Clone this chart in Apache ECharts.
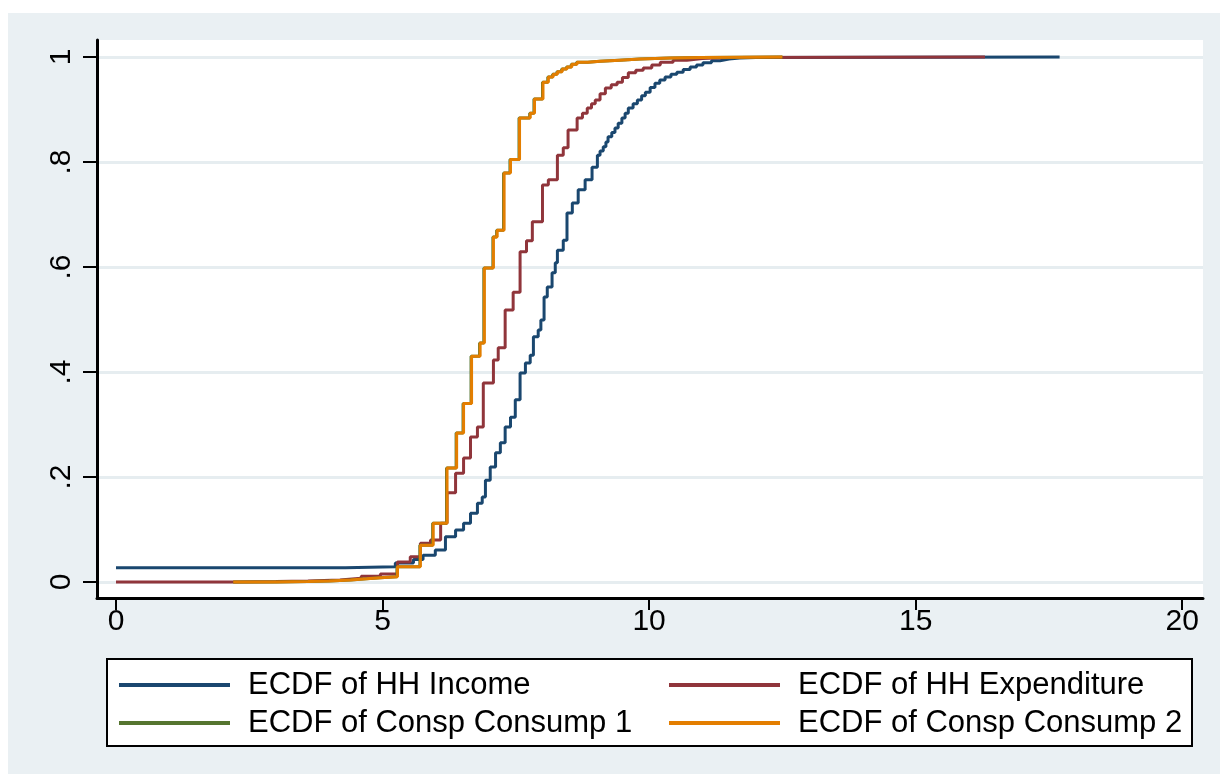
<!DOCTYPE html>
<html><head><meta charset="utf-8">
<script src="https://cdn.jsdelivr.net/npm/echarts@6/dist/echarts.min.js"></script>
<style>html,body{margin:0;padding:0;background:#fff}#c{width:1220px;height:774px}</style>
</head><body><div id="c"></div>
<script>
// ---- tick definitions ----
const xTicks = [0, 5, 10, 15, 20];
const yTicks = [0, 0.2, 0.4, 0.6, 0.8, 1];
const yTickLabels = ['0', '.2', '.4', '.6', '.8', '1'];

// ---- series names ----
const seriesNames = ['ECDF of HH Income', 'ECDF of HH Expenditure', 'ECDF of Consp Consump 1', 'ECDF of Consp Consump 2'];

// ---- ECDF step points (x value, cumulative share) ----
const incomeX = [0, 4.3, 5.24, 5.58, 5.76, 5.99, 6.18, 6.37, 6.52, 6.65, 6.78, 6.87, 6.93, 7.02, 7.12, 7.21, 7.30, 7.40, 7.49, 7.58, 7.68, 7.77, 7.83, 7.92, 7.97, 8.03, 8.09, 8.18, 8.24, 8.28, 8.39, 8.46, 8.56, 8.67, 8.80, 8.93, 9.03, 9.08, 9.14, 9.19, 9.23, 9.30, 9.36, 9.42, 9.49, 9.55, 9.61, 9.70, 9.78, 9.86, 9.93, 10.02, 10.11, 10.20, 10.30, 10.41, 10.52, 10.64, 10.77, 10.89, 11.01, 11.17, 11.33, 11.5, 11.7, 12.0, 17.7];
const incomeY = [0.027, 0.029, 0.036, 0.043, 0.051, 0.061, 0.086, 0.099, 0.112, 0.131, 0.150, 0.162, 0.194, 0.219, 0.246, 0.265, 0.295, 0.314, 0.347, 0.398, 0.417, 0.432, 0.467, 0.480, 0.499, 0.543, 0.562, 0.589, 0.608, 0.632, 0.651, 0.703, 0.722, 0.747, 0.766, 0.790, 0.813, 0.821, 0.829, 0.838, 0.848, 0.856, 0.865, 0.874, 0.884, 0.893, 0.903, 0.911, 0.918, 0.926, 0.933, 0.942, 0.950, 0.956, 0.962, 0.967, 0.971, 0.976, 0.981, 0.985, 0.989, 0.993, 0.996, 0.998, 0.999, 1.0, 1.0];

const expendX = [0, 2.2, 3.0, 3.6, 4.2, 4.6, 4.96, 5.28, 5.52, 5.71, 5.90, 6.09, 6.21, 6.37, 6.52, 6.65, 6.78, 6.89, 7.08, 7.17, 7.30, 7.45, 7.58, 7.70, 7.81, 8.00, 8.11, 8.28, 8.39, 8.48, 8.65, 8.75, 8.84, 8.92, 8.99, 9.08, 9.18, 9.29, 9.40, 9.50, 9.61, 9.75, 9.89, 10.05, 10.21, 10.45, 10.71, 11.0, 11.5, 16.3];
const expendY = [0.0, 0.001, 0.002, 0.004, 0.007, 0.011, 0.015, 0.038, 0.048, 0.074, 0.080, 0.112, 0.170, 0.207, 0.236, 0.276, 0.295, 0.379, 0.423, 0.446, 0.518, 0.552, 0.629, 0.650, 0.686, 0.756, 0.766, 0.813, 0.827, 0.861, 0.884, 0.893, 0.903, 0.911, 0.918, 0.930, 0.941, 0.947, 0.952, 0.961, 0.970, 0.975, 0.979, 0.985, 0.990, 0.994, 0.997, 0.999, 1.0, 1.0];

const consp1X = [2.2, 3.0, 3.6, 4.0, 4.4, 4.7, 4.96, 5.27, 5.70, 5.94, 6.20, 6.38, 6.51, 6.66, 6.82, 6.90, 7.07, 7.14, 7.27, 7.39, 7.56, 7.76, 7.84, 8.00, 8.10, 8.19, 8.27, 8.36, 8.45, 8.54, 8.64, 8.85, 9.08, 9.45, 9.83, 10.4, 10.96, 12.5];
const consp1Y = [0.0, 0.001, 0.002, 0.004, 0.006, 0.008, 0.010, 0.029, 0.070, 0.112, 0.217, 0.284, 0.340, 0.430, 0.455, 0.598, 0.657, 0.670, 0.779, 0.805, 0.884, 0.893, 0.920, 0.952, 0.962, 0.967, 0.972, 0.977, 0.981, 0.986, 0.990, 0.992, 0.994, 0.996, 0.998, 0.999, 1.0, 1.0];

const consp2X = [2.2, 3.0, 3.6, 4.0, 4.4, 4.7, 4.96, 5.28, 5.71, 5.95, 6.21, 6.39, 6.52, 6.67, 6.83, 6.91, 7.08, 7.15, 7.28, 7.40, 7.57, 7.77, 7.85, 8.01, 8.11, 8.20, 8.28, 8.37, 8.46, 8.55, 8.65, 8.85, 9.08, 9.45, 9.83, 10.4, 10.96, 12.5];
const consp2Y = [0.0, 0.001, 0.002, 0.004, 0.006, 0.008, 0.010, 0.029, 0.070, 0.112, 0.217, 0.284, 0.340, 0.430, 0.455, 0.598, 0.657, 0.670, 0.779, 0.805, 0.884, 0.893, 0.920, 0.952, 0.962, 0.967, 0.972, 0.977, 0.981, 0.986, 0.990, 0.992, 0.994, 0.996, 0.998, 0.999, 1.0, 1.0];

const colors = ['#1a476f', '#90353b', '#55752f', '#e37e00'];

const zip = (xs, ys) => xs.map((x, i) => [x, ys[i]]);
const seriesData = [zip(incomeX, incomeY), zip(expendX, expendY), zip(consp1X, consp1Y), zip(consp2X, consp2Y)];

const FONT = 'Liberation Sans';
const chart = echarts.init(document.getElementById('c'), null, {renderer: 'canvas'});

const legendText = {fontFamily: FONT, fontSize: 31, color: '#000', lineHeight: 32, padding: [0, 0, 0, 13]};

chart.setOption({
  backgroundColor: '#ffffff',
  animation: false,
  color: colors,
  graphic: [
    {type: 'rect', z: -100, silent: true, shape: {x: 8, y: 13, width: 1212, height: 761}, style: {fill: '#eaf0f3'}},
    {type: 'rect', z: 5, silent: true, shape: {x: 107, y: 659, width: 1085, height: 87}, style: {fill: '#ffffff', stroke: '#000', lineWidth: 2}}
  ],
  grid: {left: 97, right: 17, top: 40, bottom: 176, show: true, backgroundColor: '#ffffff', borderWidth: 0},
  legend: [
    {data: [seriesNames[0], seriesNames[2]], orient: 'vertical', left: 119, top: 669, padding: 0, itemGap: 6,
     itemWidth: 111, itemHeight: 4, icon: 'rect', textStyle: legendText, z: 10, selectedMode: false},
    {data: [seriesNames[1], seriesNames[3]], orient: 'vertical', left: 669, top: 669, padding: 0, itemGap: 6,
     itemWidth: 111, itemHeight: 4, icon: 'rect', textStyle: legendText, z: 10, selectedMode: false}
  ],
  xAxis: {
    type: 'value', min: -0.356, max: 20.39,
    axisLine: {show: true, onZero: false, lineStyle: {color: '#000', width: 3}},
    axisTick: {show: true, length: 12, lineStyle: {color: '#000', width: 2}, customValues: xTicks},
    axisLabel: {customValues: xTicks, fontFamily: FONT, fontSize: 30, color: '#000', margin: 9},
    splitLine: {show: false}
  },
  yAxis: {
    type: 'value', min: -0.0305, max: 1.0324,
    axisLine: {show: true, onZero: false, lineStyle: {color: '#000', width: 3}},
    axisTick: {show: true, length: 14, lineStyle: {color: '#000', width: 2}, customValues: yTicks},
    axisLabel: {customValues: yTicks, rotate: 90, fontFamily: FONT, fontSize: 30, color: '#000', margin: 20,
      formatter: v => { const i = yTicks.findIndex(t => Math.abs(t - v) < 1e-6); return i >= 0 ? yTickLabels[i] : ''; }},
    splitLine: {show: true, lineStyle: {color: '#e6edf0', width: 3}}
  },
  series: seriesNames.map((n, i) => ({
    name: n, type: 'line', step: 'end', data: seriesData[i], showSymbol: false, symbol: 'none',
    lineStyle: {width: 3, color: colors[i]}, itemStyle: {color: colors[i]}, z: 2 + i
  }))
});
</script></body></html>
